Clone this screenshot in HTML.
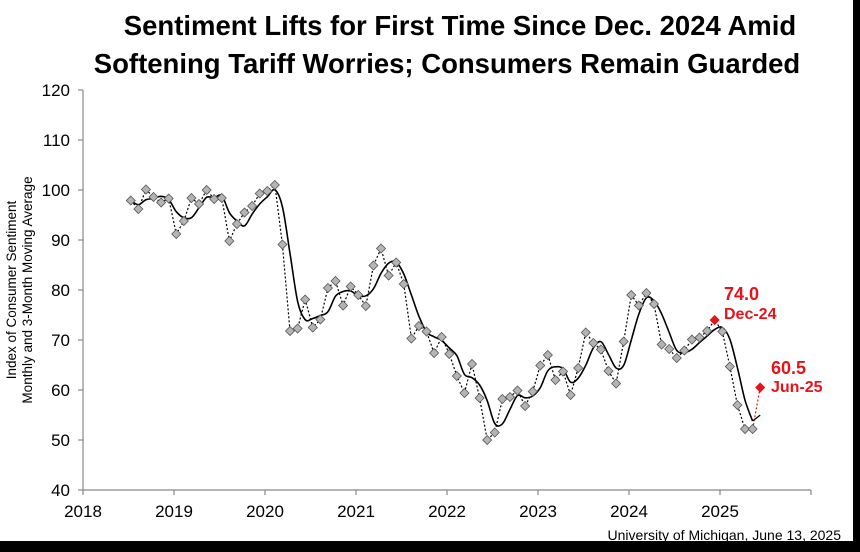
<!DOCTYPE html>
<html><head><meta charset="utf-8"><style>
html,body{margin:0;padding:0;background:#000}
#c{width:860px;height:552px;position:relative;overflow:hidden;background:#000}
svg{position:absolute;left:0;top:0}
</style></head><body><div id="c"><svg id="s" width="860" height="552" xmlns="http://www.w3.org/2000/svg" font-family="Liberation Sans, Arial, sans-serif">
<rect x="0" y="0" width="853" height="541" fill="#fff"/>
<text x="460" y="35" text-anchor="middle" font-size="27.5" font-weight="bold">Sentiment Lifts for First Time Since Dec. 2024 Amid</text>
<text x="447" y="73" text-anchor="middle" font-size="27.5" font-weight="bold">Softening Tariff Worries; Consumers Remain Guarded</text>
<g id="ax" stroke="#888" stroke-width="1.2" fill="none"></g>
<g id="lbl" font-size="17" fill="#000"></g>
<text transform="translate(16,290) rotate(-90)" text-anchor="middle" font-size="13.5">Index of Consumer Sentiment</text>
<text transform="translate(32,290) rotate(-90)" text-anchor="middle" font-size="13.5">Monthly and 3-Month Moving Average</text>
<g id="d"></g>
<text x="724" y="300" font-size="18" font-weight="bold" fill="#e8121b">74.0</text>
<text x="724" y="319" font-size="16" font-weight="bold" fill="#e8121b">Dec-24</text>
<text x="771" y="374" font-size="18" font-weight="bold" fill="#e8121b">60.5</text>
<text x="771" y="392" font-size="16" font-weight="bold" fill="#e8121b">Jun-25</text>
<text x="841" y="540" text-anchor="end" font-size="14">University of Michigan, June 13, 2025</text>
</svg></div>
<script>
var v=[97.9,96.2,100.1,98.6,97.5,98.3,
91.2,93.8,98.4,97.2,100.0,98.2,98.4,89.8,93.2,95.5,96.8,99.3,
99.8,101.0,89.1,71.8,72.3,78.1,72.5,74.1,80.4,81.8,76.9,80.7,
79.0,76.8,84.9,88.3,82.9,85.5,81.2,70.3,72.8,71.7,67.4,70.6,
67.2,62.8,59.4,65.2,58.4,50.0,51.5,58.2,58.6,59.9,56.8,59.7,
64.9,67.0,62.0,63.7,59.0,64.4,71.5,69.4,68.1,63.8,61.3,69.7,
79.0,76.9,79.4,77.2,69.1,68.2,66.4,67.9,70.1,70.5,71.8,74.0,
71.7,64.7,57.0,52.2,52.2,60.5];
var NS="http://www.w3.org/2000/svg";
function X(t){return 83+(t-2018)*91}
function Y(u){return 490-(u-40)*5}
function el(p,n,a){var e=document.createElementNS(NS,n);for(var k in a)e.setAttribute(k,a[k]);document.getElementById(p).appendChild(e);return e}
el("ax","line",{x1:83,y1:90,x2:83,y2:490});
el("ax","line",{x1:83,y1:490,x2:811,y2:490});
for(var u=40;u<=120;u+=10){el("ax","line",{x1:78,y1:Y(u),x2:83,y2:Y(u)});var t=el("lbl","text",{x:70,y:Y(u)+6,"text-anchor":"end"});t.textContent=u;}
for(var y=2018;y<=2026;y++){el("ax","line",{x1:X(y),y1:490,x2:X(y),y2:495});if(y<2026){var t=el("lbl","text",{x:X(y),y:517,"text-anchor":"middle"});t.textContent=y;}}
var pts=v.map(function(u,i){var m=6+i;return [X(2018+(m+0.3)/12),Y(u)]});
var n=v.length;
var dp="M"+pts.slice(0,n-1).map(function(p){return p[0].toFixed(1)+","+p[1].toFixed(1)}).join("L");
el("d","path",{d:dp,stroke:"#000","stroke-width":1.2,"stroke-dasharray":"2,2",fill:"none"});
el("d","line",{x1:pts[n-2][0],y1:pts[n-2][1],x2:pts[n-1][0],y2:pts[n-1][1],stroke:"#e8121b","stroke-width":1.2,"stroke-dasharray":"2,2"});
var ma=[];for(var i=0;i<n;i++){var s=0,c=0;for(var j=Math.max(0,i-2);j<=i;j++){s+=v[j];c++}ma.push([pts[i][0],Y(s/c)])}
var d="M"+ma[0][0]+","+ma[0][1];
for(var i=0;i<n-2;i++){var p0=ma[Math.max(0,i-1)],p1=ma[i],p2=ma[i+1],p3=ma[Math.min(n-2,i+2)];
d+="C"+(p1[0]+(p2[0]-p0[0])/6).toFixed(1)+","+(p1[1]+(p2[1]-p0[1])/6).toFixed(1)+" "+(p2[0]-(p3[0]-p1[0])/6).toFixed(1)+","+(p2[1]-(p3[1]-p1[1])/6).toFixed(1)+" "+p2[0].toFixed(1)+","+p2[1].toFixed(1);}
el("d","path",{d:d,stroke:"#000","stroke-width":1.6,fill:"none"});
el("d","line",{x1:ma[n-2][0],y1:ma[n-2][1],x2:ma[n-1][0],y2:ma[n-1][1],stroke:"#000","stroke-width":1.3});
pts.forEach(function(p,i){var r=4.5,red=(i==n-1||i==n-7);
el("d","polygon",{points:p[0]+","+(p[1]-r)+" "+(p[0]+r)+","+p[1]+" "+p[0]+","+(p[1]+r)+" "+(p[0]-r)+","+p[1],fill:red?"#e8121b":"#b4b4b4",stroke:red?"#e8121b":"#555","stroke-width":0.8});});
</script>
</body></html>
